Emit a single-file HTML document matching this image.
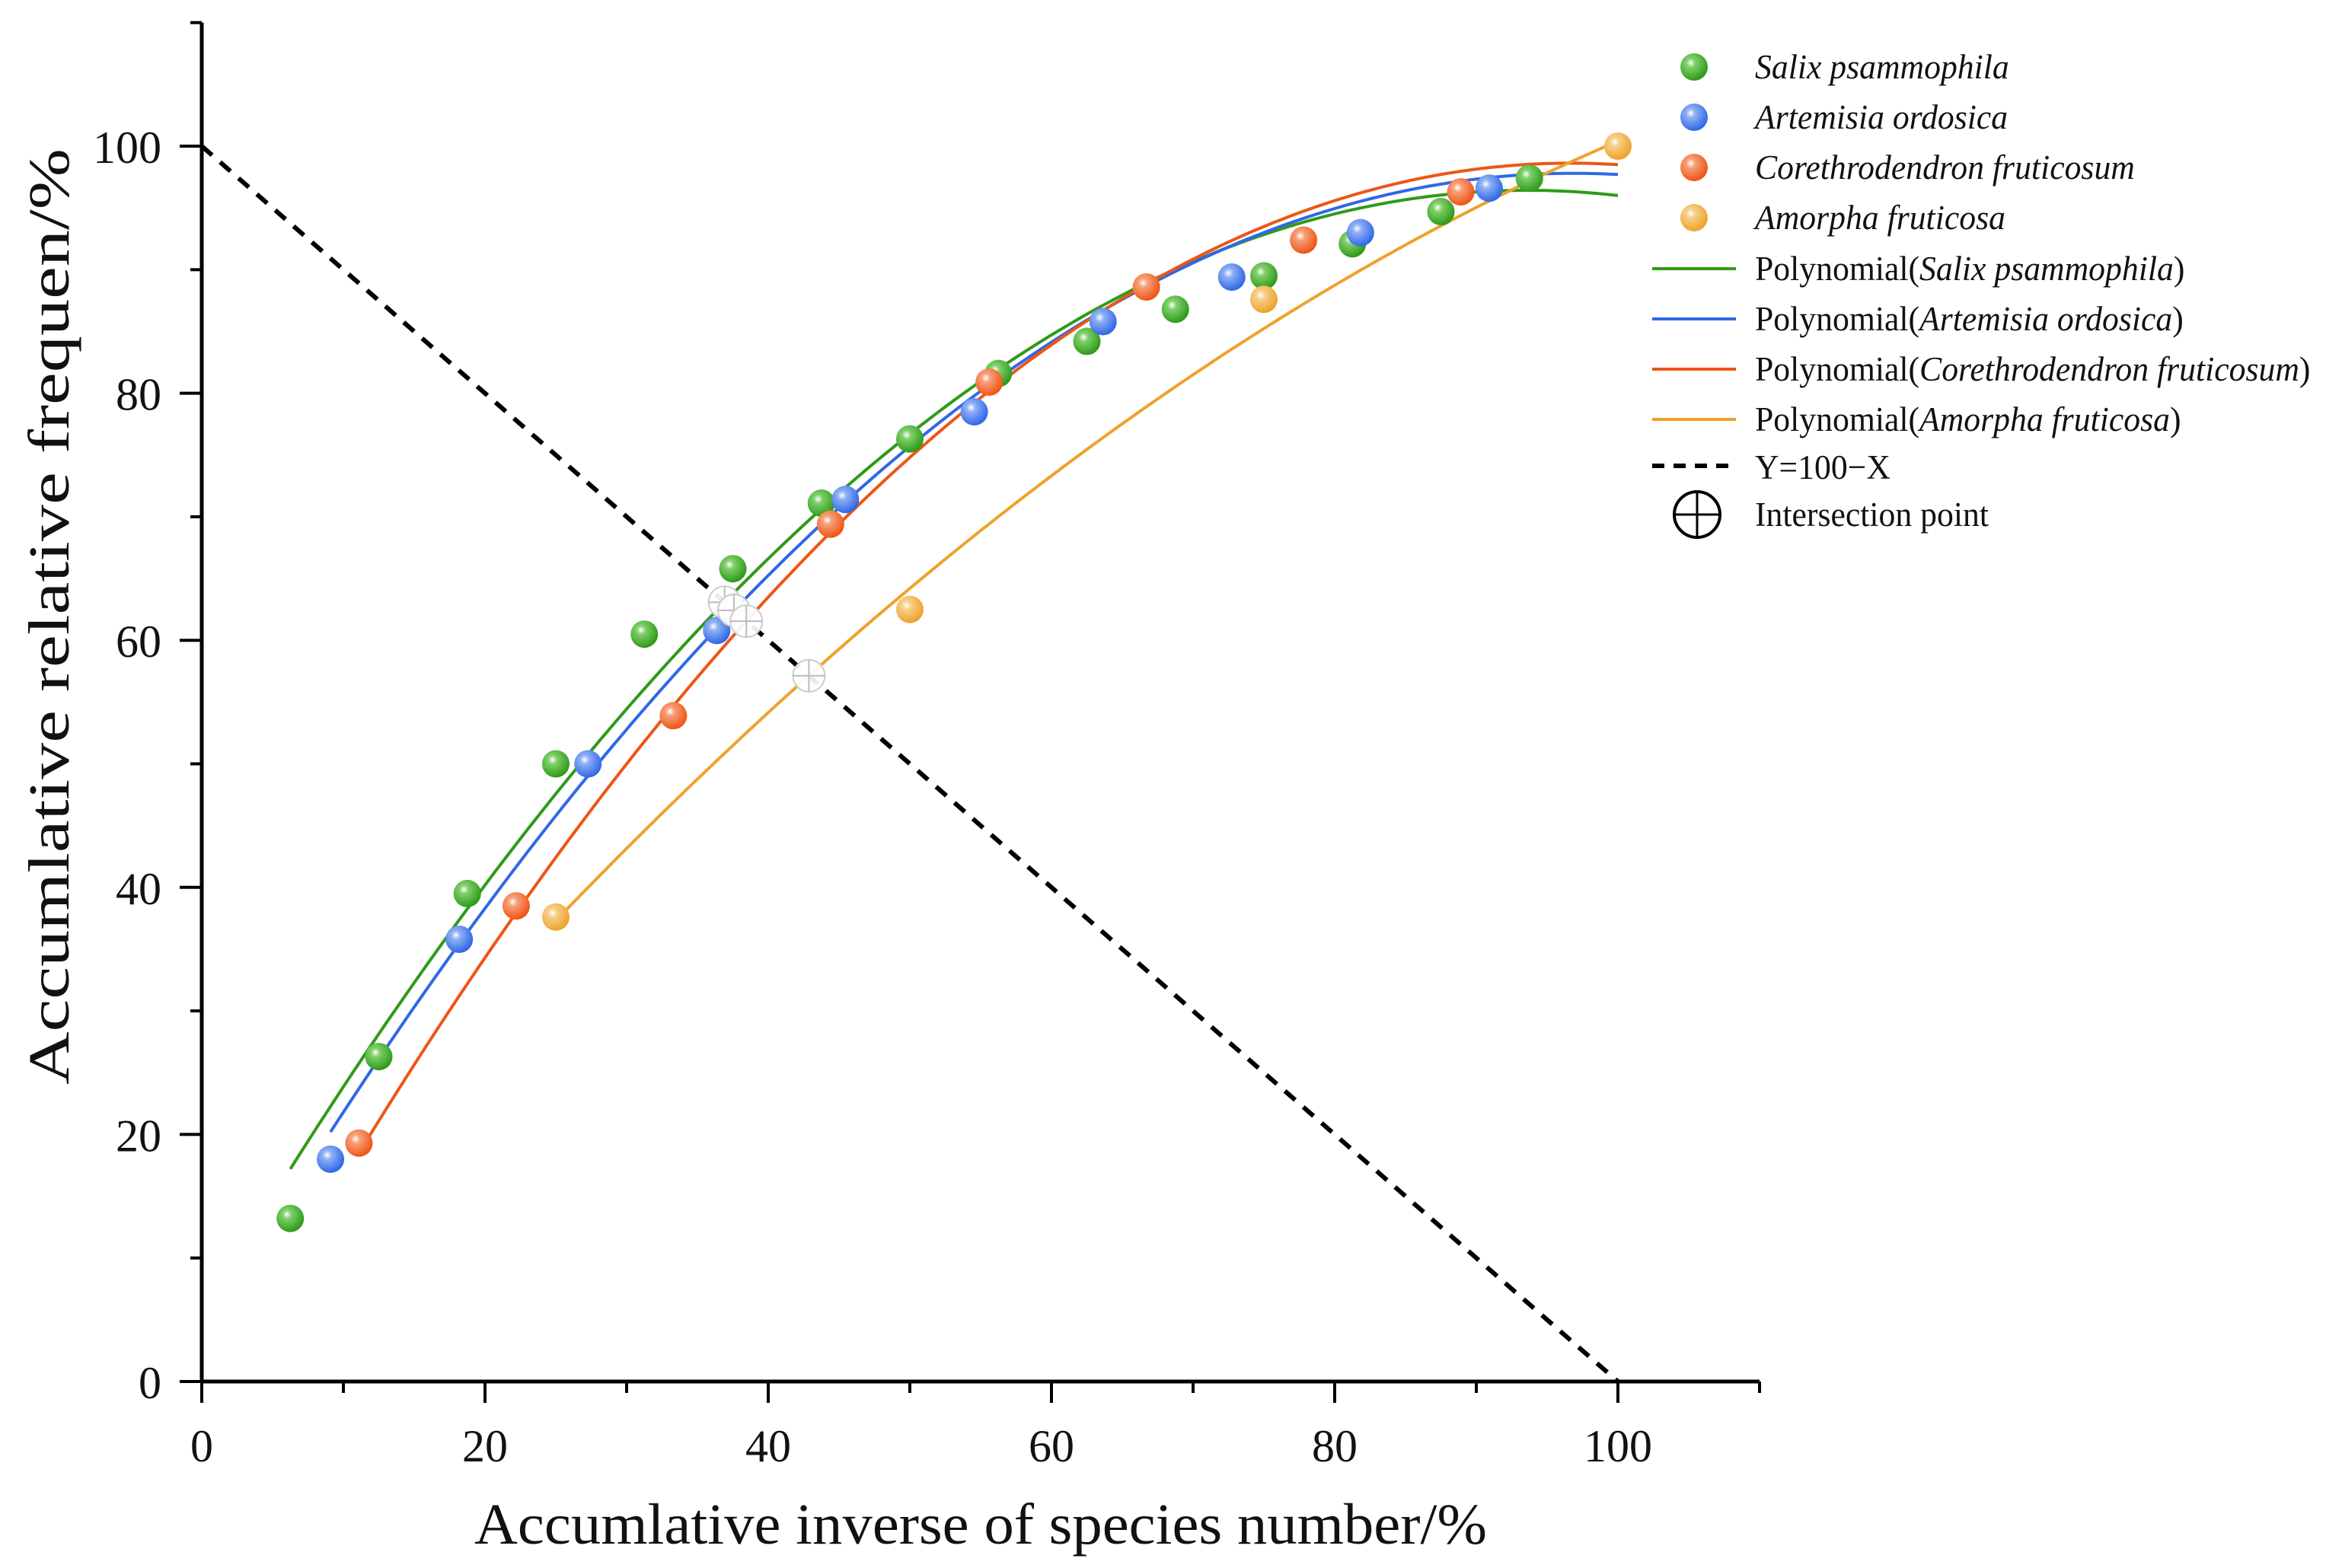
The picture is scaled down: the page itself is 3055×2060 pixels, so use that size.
<!DOCTYPE html>
<html><head><meta charset="utf-8"><style>
html,body{margin:0;padding:0;background:#fff;}
svg{display:block;}
text{font-family:"Liberation Serif",serif;fill:#111;}
</style></head><body>
<svg id="chart" width="3055" height="2060" viewBox="0 0 3055 2060" xmlns="http://www.w3.org/2000/svg">
<defs>
<radialGradient id="g-green" cx="0.38" cy="0.35" r="0.65"><stop offset="0" stop-color="#ffffff"/><stop offset="0.25" stop-color="#7fd06a"/><stop offset="1" stop-color="#2f9a1a"/></radialGradient>
<radialGradient id="g-blue" cx="0.38" cy="0.35" r="0.65"><stop offset="0" stop-color="#ffffff"/><stop offset="0.25" stop-color="#8fb0f5"/><stop offset="1" stop-color="#3068e6"/></radialGradient>
<radialGradient id="g-orange" cx="0.38" cy="0.35" r="0.65"><stop offset="0" stop-color="#ffffff"/><stop offset="0.25" stop-color="#f7a07a"/><stop offset="1" stop-color="#ee5516"/></radialGradient>
<radialGradient id="g-yellow" cx="0.38" cy="0.35" r="0.65"><stop offset="0" stop-color="#ffffff"/><stop offset="0.25" stop-color="#f7d08a"/><stop offset="1" stop-color="#eea22c"/></radialGradient>
</defs>
<g id="plot"></g>
<g id="axes"></g>
<g id="legend"></g>
</svg>
<script>
const NS="http://www.w3.org/2000/svg";
const salixX=[6.25,12.5,18.75,25,31.25,37.5,43.75,50,56.25,62.5,68.75,75,81.25,87.5,93.75];
const salixY=[13.2,26.3,39.5,50,60.5,65.8,71.1,76.3,81.6,84.2,86.8,89.5,92.1,94.7,97.4];
const artemX=[9.09,18.18,27.27,36.36,45.45,54.55,63.64,72.73,81.82,90.91];
const artemY=[18,35.8,50,60.8,71.4,78.5,85.8,89.4,93,96.6];
const corethX=[11.1,22.2,33.3,44.4,55.6,66.7,77.8,88.9];
const corethY=[19.3,38.5,53.9,69.4,80.9,88.6,92.4,96.3];
const amorX=[25,50,75,100];
const amorY=[37.6,62.5,87.6,100];
// polynomial trendline values read at start x, x=50 and x=100
const trendStartY=[17.2,20.2,18.5,37.3];
const trendMidY=[76.7,75.7,74.8,64.2];
const trendEndY=[96.0,97.7,98.5,100.4];
const xTicks=[0,20,40,60,80,100];
const yTicks=[0,20,40,60,80,100];

const X0=265,XS=18.6,Y0=1815,YS=16.23;
const sx=v=>X0+v*XS, sy=v=>Y0-v*YS;
const plot=document.getElementById('plot'),axes=document.getElementById('axes'),legend=document.getElementById('legend');
function mk(tag,attrs,parent){const e=document.createElementNS(NS,tag);for(const k in attrs)e.setAttribute(k,attrs[k]);parent.appendChild(e);return e;}
function quad(x0,y0,x1,y1,x2,y2){
 return x=>y0*(x-x1)*(x-x2)/((x0-x1)*(x0-x2))+y1*(x-x0)*(x-x2)/((x1-x0)*(x1-x2))+y2*(x-x0)*(x-x1)/((x2-x0)*(x2-x1));
}
const dl=mk('line',{x1:sx(0),y1:sy(100),x2:sx(100),y2:sy(0),stroke:'#000','stroke-width':6,'stroke-dasharray':'18 14'},plot);



const series=[
 {name:'salix',xs:salixX,ys:salixY,col:'#2f9a1a',grad:'g-green'},
 {name:'artemisia',xs:artemX,ys:artemY,col:'#3068e6',grad:'g-blue'},
 {name:'corethrodendron',xs:corethX,ys:corethY,col:'#ee5516',grad:'g-orange'},
 {name:'amorpha',xs:amorX,ys:amorY,col:'#eea22c',grad:'g-yellow'}
];
const inters=[];
series.forEach((s,si)=>{
 const x1=s.xs[0];
 const f=quad(x1,trendStartY[si],50,trendMidY[si],100,trendEndY[si]);
 let d='';
 for(let i=0;i<=150;i++){const x=x1+(100-x1)*i/150;d+=(i?'L':'M')+sx(x).toFixed(1)+','+sy(f(x)).toFixed(1);}
 const p=mk('path',{d:d,fill:'none',stroke:s.col,'stroke-width':4},plot);
 
 
 let lo=x1,hi=100;const g=x=>f(x)-(100-x);
 if(g(lo)<0&&g(hi)>0){for(let k=0;k<60;k++){const mid=(lo+hi)/2;if(g(mid)<0)lo=mid;else hi=mid;}inters.push({x:lo,y:100-lo,name:s.name});}
});
series.forEach(s=>{
 s.xs.forEach((x,i)=>{
  const m=mk('circle',{cx:sx(x),cy:sy(s.ys[i]),r:18,fill:'url(#'+s.grad+')'},plot);
  
  
 });
});
inters.forEach(p=>{
 const g=mk('g',{},plot);
 
 
 const cx=sx(p.x),cy=sy(p.y);
 mk('circle',{cx:cx,cy:cy,r:21,fill:'#fff','fill-opacity':0.92,stroke:'#ccc','stroke-width':2},g);
 mk('line',{x1:cx-21,y1:cy,x2:cx+21,y2:cy,stroke:'#bbb','stroke-width':2},g);
 mk('line',{x1:cx,y1:cy-21,x2:cx,y2:cy+21,stroke:'#bbb','stroke-width':2},g);
});
let e=mk('line',{x1:X0,y1:Y0,x2:sx(110),y2:Y0,stroke:'#000','stroke-width':5},axes);

e=mk('line',{x1:X0,y1:Y0,x2:X0,y2:sy(110),stroke:'#000','stroke-width':5},axes);

mk('line',{x1:sx(110),y1:Y0,x2:sx(110),y2:Y0+15,stroke:'#000','stroke-width':4},axes);
mk('line',{x1:X0,y1:sy(110),x2:X0-15,y2:sy(110),stroke:'#000','stroke-width':4},axes);
for(let v=10;v<110;v+=20){
 mk('line',{x1:sx(v),y1:Y0,x2:sx(v),y2:Y0+15,stroke:'#000','stroke-width':4},axes);
 mk('line',{x1:X0,y1:sy(v),x2:X0-15,y2:sy(v),stroke:'#000','stroke-width':4},axes);
}
xTicks.forEach(v=>{
 mk('line',{x1:sx(v),y1:Y0,x2:sx(v),y2:Y0+28,stroke:'#000','stroke-width':4},axes);
 const t=mk('text',{x:sx(v),y:1920,'text-anchor':'middle','font-size':60},axes);t.textContent=v;
 
});
yTicks.forEach(v=>{
 mk('line',{x1:X0,y1:sy(v),x2:X0-29,y2:sy(v),stroke:'#000','stroke-width':4},axes);
 const t=mk('text',{x:212,y:sy(v)+22,'text-anchor':'end','font-size':60},axes);t.textContent=v;
 
});
let t=mk('text',{x:1288,y:2028,'text-anchor':'middle','font-size':76,textLength:1330,lengthAdjust:'spacingAndGlyphs'},axes);
t.textContent='Accumlative inverse of species number/%';

t=mk('text',{x:0,y:0,'text-anchor':'middle','font-size':76,textLength:1230,lengthAdjust:'spacingAndGlyphs',transform:'translate(90,810) rotate(-90)'},axes);
t.textContent='Accumlative relative frequen/%';

const names=['Salix psammophila','Artemisia ordosica','Corethrodendron fruticosum','Amorpha fruticosa'];
const rowY=[88,154,220,286,353,419,485,551,612,676];
const SC='scale(0.95,1)';
function ltext(parent,y,html,italic){
 const tx=mk('text',{x:0,y:0,'font-size':46,transform:'translate(2305,'+(y+15)+') '+SC},parent);
 if(italic)tx.setAttribute('font-style','italic');
 tx.innerHTML=html;return tx;
}
series.forEach((s,i)=>{
 const g=mk('g',{},legend);
 
 mk('circle',{cx:2225,cy:rowY[i],r:18,fill:'url(#'+s.grad+')'},g);
 ltext(g,rowY[i],names[i],true);
 const g2=mk('g',{},legend);
 
 mk('line',{x1:2170,y1:rowY[i+4],x2:2280,y2:rowY[i+4],stroke:s.col,'stroke-width':4},g2);
 ltext(g2,rowY[i+4],'Polynomial(<tspan font-style="italic">'+names[i]+'</tspan>)',false);
});
let g=mk('g',{},legend);

mk('line',{x1:2170,y1:rowY[8],x2:2280,y2:rowY[8],stroke:'#000','stroke-width':6,'stroke-dasharray':'16 12'},g);
ltext(g,rowY[8]+2,'Y=100−X',false);
g=mk('g',{},legend);

mk('circle',{cx:2229,cy:rowY[9],r:30,fill:'none',stroke:'#000','stroke-width':4},g);
mk('line',{x1:2199,y1:rowY[9],x2:2259,y2:rowY[9],stroke:'#000','stroke-width':3},g);
mk('line',{x1:2229,y1:rowY[9]-30,x2:2229,y2:rowY[9]+30,stroke:'#000','stroke-width':3},g);
ltext(g,rowY[9],'Intersection point',false);
</script>
</body></html>
